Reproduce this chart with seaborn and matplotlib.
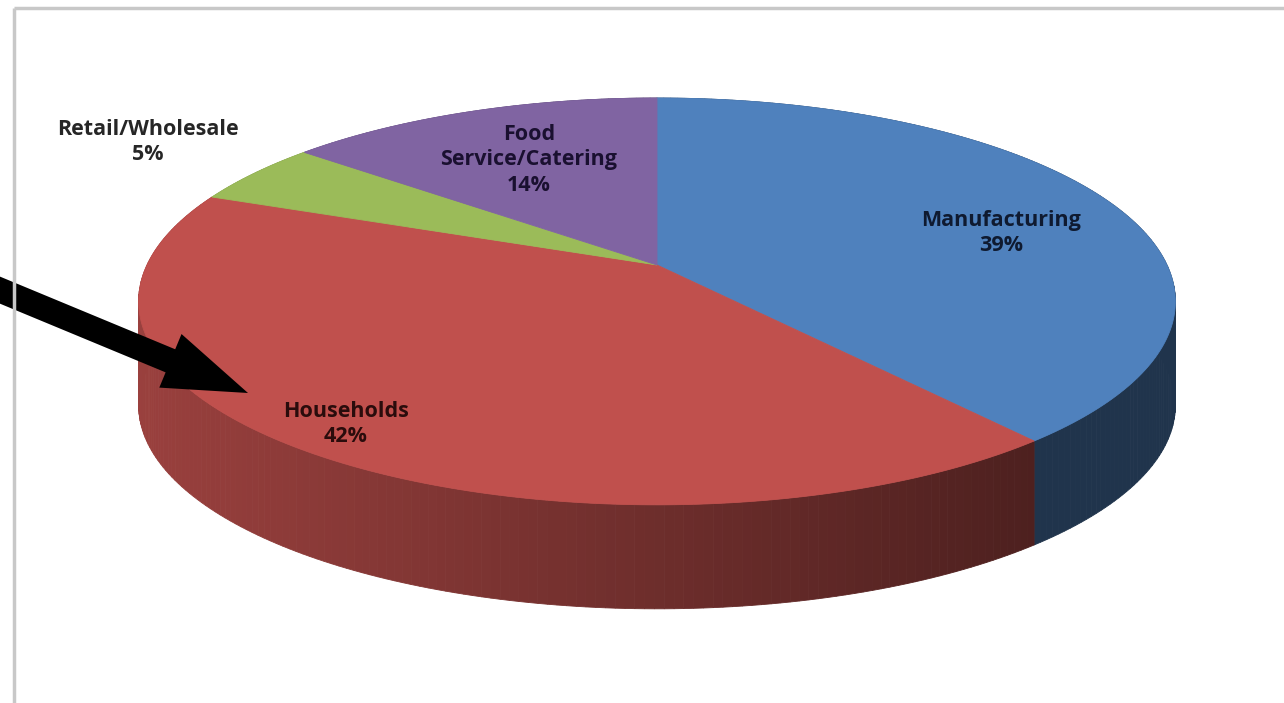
import numpy as np
import matplotlib
matplotlib.use("Agg")
import matplotlib.pyplot as plt
import seaborn as sns
from matplotlib.patches import Polygon, FancyArrow
from matplotlib.colors import to_rgb

# ---- data ----
categories = ["Manufacturing", "Households", "Retail/Wholesale", "Food\nService/Catering"]
shares = [39, 42, 5, 14]
top_colors = ["#4F81BD", "#C0504D", "#9BBB59", "#8064A2"]
label_colors = ["#0f1a30", "#2a0c0c", "#262626", "#1a1030"]

sns.set_theme(style="white")
plt.rcParams['font.family'] = ['Open Sans', 'DejaVu Sans']

W, H = 1284, 703
fig = plt.figure(figsize=(W / 100, H / 100), dpi=100)
ax = fig.add_axes([0, 0, 1, 1])
ax.set_xlim(0, W)
ax.set_ylim(H, 0)
ax.axis('off')

# geometry of the perspective disk
CX, CY = 657, 265
A, B, K = 510, 196.9, 0.179
D = 104


def proj(phi, r=1.0):
    X = r * np.sin(phi)
    Y = r * np.cos(phi)
    w = 1 + K * Y
    return CX + A * X / w, CY - B * Y / w


fracs = np.array(shares, dtype=float) / np.sum(shares)
edges = np.concatenate([[0], np.cumsum(fracs)]) * 2 * np.pi

# sides (drawn first; the top faces cover the hidden back part)
for i, col in enumerate(top_colors):
    base = np.array(to_rgb(col))
    phis = np.linspace(edges[i], edges[i + 1], max(int(fracs[i] * 400), 4))
    for p0, p1 in zip(phis[:-1], phis[1:]):
        x0, y0 = proj(p0)
        x1, y1 = proj(p1)
        xm = (x0 + x1) / 2
        f = 0.80 - 0.40 * np.clip((xm - 140) / 900, 0, 1)
        c = np.clip(base * f, 0, 1)
        ax.add_patch(Polygon([(x0, y0), (x1, y1), (x1, y1 + D), (x0, y0 + D)],
                             closed=True, facecolor=c, edgecolor=c, lw=0.6))

# top faces
for i, col in enumerate(top_colors):
    phis = np.linspace(edges[i], edges[i + 1], 200)
    xs, ys = proj(phis)
    pts = [(CX, CY)] + list(zip(xs, ys))
    ax.add_patch(Polygon(pts, closed=True, facecolor=col, edgecolor=col, lw=0.6))

# labels
label_pos = [(1001, 233), (346, 424), (148, 142), (529, 160)]
for i, name in enumerate(categories):
    x, y = label_pos[i]
    ax.text(x, y, f"{name}\n{shares[i]}%", ha='center', va='center',
            fontsize=15.5, fontweight='bold', color=label_colors[i],
            linespacing=1.28)

# arrow
ax.add_patch(FancyArrow(-10, 286, 258, 107, width=25, head_width=58,
                        head_length=84, length_includes_head=True,
                        color='black', lw=0))

# frame
ax.plot([14, 14], [8, H], color='#c8c8c8', lw=2.5, solid_capstyle='butt')
ax.plot([14, W], [8, 8], color='#c8c8c8', lw=2.5, solid_capstyle='butt')

fig.savefig("out.png", dpi=100, facecolor='white')
